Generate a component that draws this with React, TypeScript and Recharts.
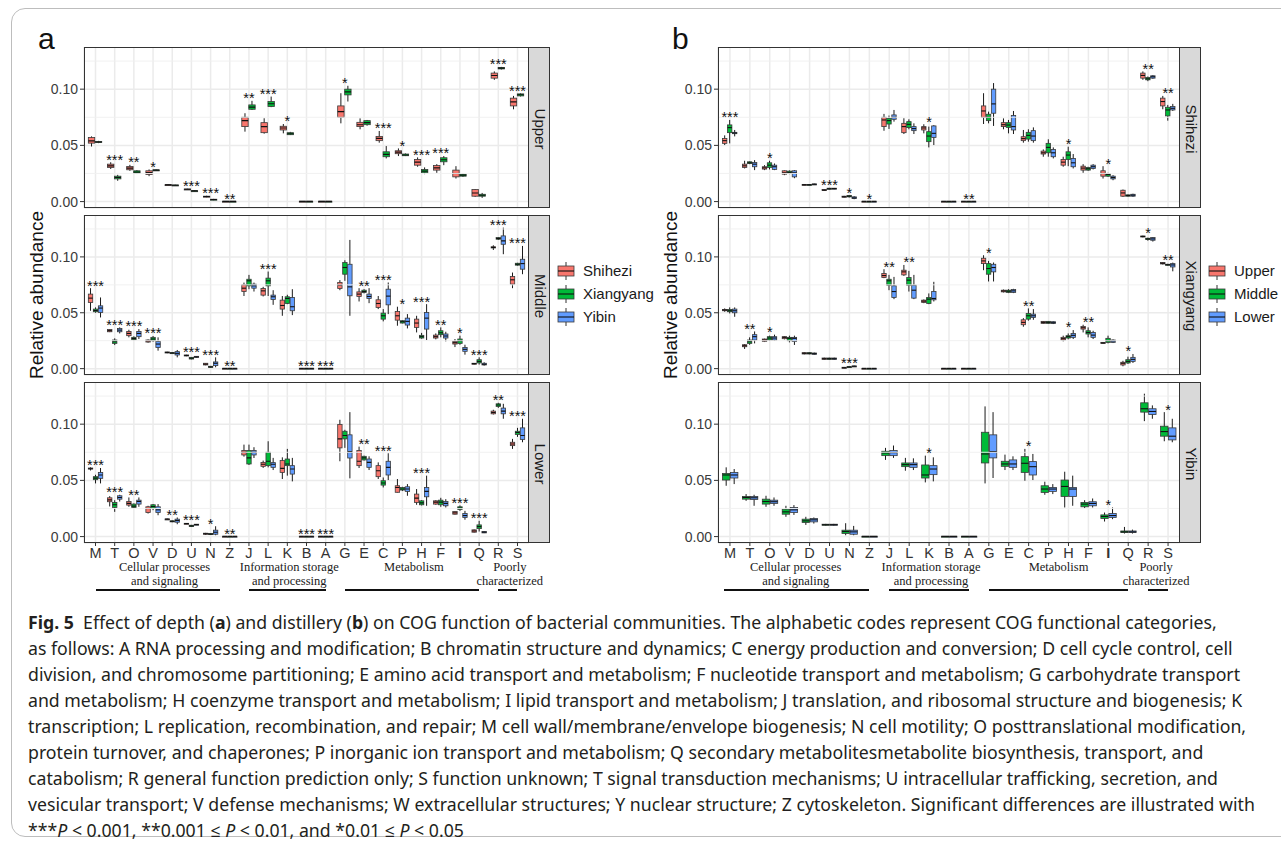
import React from 'react';
import { ComposedChart, Bar, Scatter, XAxis, YAxis, CartesianGrid, ReferenceLine } from 'recharts';

type Stat = number[]; // [min, q1, median, q3, max]

const categories = ['M', 'T', 'O', 'V', 'D', 'U', 'N', 'Z', 'J', 'L', 'K', 'B', 'A', 'G', 'E', 'C', 'P', 'H', 'F', 'I', 'Q', 'R', 'S'];
const NIL: Stat = [0, 0.0001, 0.0002, 0.0003, 0.0004];

// ---- panel a (depth) ----
const aUpperShihezi: Stat[] = [
  [0.049, 0.052, 0.054, 0.057, 0.058], [0.029, 0.0304, 0.0318, 0.0333, 0.035], [0.0274, 0.0283, 0.0298, 0.0312, 0.0327],
  [0.0226, 0.0241, 0.0259, 0.0274, 0.0286], [0.0144, 0.0147, 0.0149, 0.0151, 0.0153], [0.0106, 0.0108, 0.011, 0.0112, 0.0114],
  [0.0038, 0.0042, 0.0045, 0.0048, 0.0052], NIL, [0.0622, 0.0667, 0.072, 0.075, 0.0786],
  [0.0604, 0.0613, 0.0667, 0.0702, 0.0741], [0.0607, 0.0637, 0.0655, 0.067, 0.069], NIL, NIL,
  [0.0696, 0.075, 0.08, 0.0851, 0.0964], [0.0643, 0.0667, 0.0684, 0.0705, 0.074], [0.0524, 0.0542, 0.0562, 0.058, 0.0628],
  [0.0405, 0.0426, 0.044, 0.0452, 0.0473], [0.031, 0.0324, 0.0351, 0.0375, 0.0393], [0.0256, 0.028, 0.03, 0.0321, 0.0333],
  [0.0205, 0.022, 0.025, 0.028, 0.0315], [0.0042, 0.0048, 0.0077, 0.0107, 0.011], [0.1083, 0.1098, 0.1122, 0.1143, 0.1158],
  [0.0821, 0.0851, 0.0887, 0.092, 0.094],
];
const aUpperXiangyang: Stat[] = [
  [0.052, 0.0525, 0.053, 0.0535, 0.054], [0.0185, 0.0202, 0.0214, 0.0226, 0.0238], [0.0245, 0.025, 0.0262, 0.0274, 0.028],
  [0.0275, 0.0278, 0.028, 0.0282, 0.0285], [0.0142, 0.0144, 0.0146, 0.0148, 0.015], [0.0091, 0.0093, 0.0095, 0.0097, 0.0099],
  [0.0012, 0.0015, 0.0018, 0.0021, 0.0024], NIL, [0.0815, 0.0821, 0.084, 0.086, 0.0896],
  [0.084, 0.0845, 0.087, 0.089, 0.0934], [0.0592, 0.0595, 0.0604, 0.0613, 0.062], NIL, NIL,
  [0.089, 0.0949, 0.0976, 0.1, 0.103], [0.0675, 0.0684, 0.0702, 0.072, 0.0726], [0.0384, 0.0399, 0.042, 0.0443, 0.0494],
  [0.0405, 0.0408, 0.0414, 0.0423, 0.0428], [0.0244, 0.0256, 0.0271, 0.0286, 0.0304], [0.0324, 0.0354, 0.0372, 0.039, 0.0405],
  [0.022, 0.0226, 0.0235, 0.0244, 0.025], [0.0033, 0.0048, 0.0057, 0.0065, 0.0077], [0.1175, 0.118, 0.1187, 0.1193, 0.1198],
  [0.0935, 0.094, 0.095, 0.0958, 0.0962],
];
const aMiddleShihezi: Stat[] = [
  [0.0518, 0.0592, 0.0631, 0.0667, 0.072], [0.0327, 0.033, 0.034, 0.0351, 0.0354], [0.028, 0.0295, 0.0315, 0.0333, 0.0348],
  [0.0232, 0.0238, 0.0247, 0.0256, 0.0262], [0.0138, 0.014, 0.0145, 0.0149, 0.0151], [0.0111, 0.0113, 0.0118, 0.0122, 0.0124],
  [0.003, 0.0033, 0.004, 0.0048, 0.005], NIL, [0.065, 0.069, 0.072, 0.075, 0.077],
  [0.0646, 0.0658, 0.0696, 0.0717, 0.0732], [0.0473, 0.0533, 0.0565, 0.0613, 0.065], NIL, NIL,
  [0.0702, 0.0717, 0.0747, 0.0771, 0.0792], [0.0601, 0.0646, 0.0667, 0.0687, 0.072], [0.0533, 0.0548, 0.0583, 0.0616, 0.065],
  [0.0384, 0.0434, 0.0473, 0.0512, 0.0554], [0.0324, 0.0369, 0.0408, 0.0443, 0.0473], [0.0262, 0.0274, 0.0286, 0.03, 0.0315],
  [0.0193, 0.022, 0.0232, 0.0244, 0.0265], [0.0036, 0.0039, 0.0045, 0.0048, 0.005], [0.1062, 0.108, 0.1085, 0.109, 0.1104],
  [0.072, 0.0756, 0.0795, 0.0824, 0.086],
];
const aMiddleXiangyang: Stat[] = [
  [0.05, 0.0509, 0.052, 0.0533, 0.0548], [0.0211, 0.0226, 0.0241, 0.0256, 0.0271], [0.0253, 0.0259, 0.027, 0.028, 0.0289],
  [0.0241, 0.025, 0.0265, 0.028, 0.0292], [0.0135, 0.0138, 0.014, 0.0143, 0.0146], [0.0083, 0.0086, 0.0093, 0.0101, 0.0104],
  [0.0009, 0.0012, 0.0015, 0.0021, 0.0024], NIL, [0.0711, 0.0741, 0.0786, 0.08, 0.0839],
  [0.065, 0.0741, 0.0786, 0.081, 0.0869], [0.0577, 0.0583, 0.0628, 0.0643, 0.0661], NIL, NIL,
  [0.0786, 0.0845, 0.0905, 0.0949, 0.097], [0.0673, 0.0682, 0.069, 0.0702, 0.0711], [0.0423, 0.0443, 0.0473, 0.0497, 0.0533],
  [0.0405, 0.0408, 0.042, 0.0429, 0.0432], [0.0268, 0.0274, 0.0286, 0.0298, 0.032], [0.028, 0.0304, 0.0321, 0.0339, 0.0369],
  [0.0214, 0.0226, 0.025, 0.0265, 0.0295], [0.0036, 0.0051, 0.0065, 0.008, 0.0101], [0.1152, 0.1158, 0.1165, 0.1173, 0.1178],
  [0.0922, 0.0926, 0.0934, 0.0943, 0.0947],
];
const aMiddleYibin: Stat[] = [
  [0.0458, 0.0503, 0.0542, 0.0562, 0.0637], [0.0315, 0.033, 0.0345, 0.036, 0.0369], [0.0265, 0.0286, 0.0315, 0.0333, 0.0354],
  [0.0161, 0.019, 0.022, 0.0244, 0.028], [0.0101, 0.0122, 0.0137, 0.0152, 0.0167], [0.0098, 0.0101, 0.0105, 0.011, 0.0113],
  [0.0012, 0.0027, 0.0048, 0.006, 0.0101], NIL, [0.069, 0.072, 0.0741, 0.0756, 0.077],
  [0.0571, 0.0619, 0.0643, 0.0658, 0.0702], [0.0479, 0.0518, 0.0554, 0.0637, 0.0711], NIL, NIL,
  [0.0473, 0.0652, 0.0732, 0.0934, 0.1152], [0.0586, 0.0628, 0.0646, 0.0667, 0.072], [0.0488, 0.0571, 0.0649, 0.0711, 0.0771],
  [0.036, 0.039, 0.0423, 0.0452, 0.0488], [0.0256, 0.0354, 0.0452, 0.0503, 0.0577], [0.0244, 0.0274, 0.0292, 0.031, 0.033],
  [0.0125, 0.0155, 0.0173, 0.019, 0.0214], [0.0027, 0.0033, 0.0039, 0.0048, 0.0057], [0.1024, 0.1113, 0.1143, 0.1188, 0.1262],
  [0.0845, 0.089, 0.094, 0.0979, 0.1098],
];
const aLowerShihezi: Stat[] = [
  [0.0588, 0.0601, 0.0604, 0.061, 0.0616], [0.0268, 0.031, 0.0327, 0.0345, 0.036], [0.0265, 0.028, 0.0295, 0.0312, 0.0348],
  [0.0205, 0.0214, 0.025, 0.0265, 0.0274], [0.015, 0.0153, 0.0155, 0.0157, 0.016], [0.0111, 0.0114, 0.0116, 0.0118, 0.012],
  [0.0015, 0.0021, 0.0025, 0.003, 0.0033], NIL, [0.0711, 0.0726, 0.075, 0.0765, 0.0818],
  [0.0611, 0.0625, 0.0643, 0.066, 0.0676], [0.0512, 0.0571, 0.0607, 0.0676, 0.0705], NIL, NIL,
  [0.067, 0.0789, 0.0869, 0.0997, 0.1039], [0.061, 0.0631, 0.067, 0.0765, 0.08], [0.0512, 0.0533, 0.0586, 0.0631, 0.066],
  [0.0393, 0.0394, 0.0437, 0.0452, 0.0512], [0.0283, 0.0304, 0.0342, 0.0378, 0.0423], [0.0283, 0.0289, 0.0307, 0.0318, 0.0324],
  [0.0196, 0.0199, 0.0211, 0.0223, 0.0226], [0.0036, 0.0039, 0.005, 0.006, 0.0063], [0.1086, 0.1092, 0.1104, 0.1116, 0.1128],
  [0.078, 0.0809, 0.0824, 0.0839, 0.0869],
];
const aLowerXiangyang: Stat[] = [
  [0.0473, 0.0506, 0.052, 0.0533, 0.055], [0.022, 0.0259, 0.0283, 0.0304, 0.0324], [0.0253, 0.0259, 0.0271, 0.0289, 0.0295],
  [0.0235, 0.0253, 0.0268, 0.0283, 0.0289], [0.0128, 0.0131, 0.0136, 0.014, 0.0143], [0.0086, 0.0089, 0.0095, 0.0101, 0.0104],
  [0.0015, 0.0018, 0.0022, 0.0027, 0.003], NIL, [0.0637, 0.0646, 0.07, 0.0765, 0.0818],
  [0.0616, 0.0631, 0.067, 0.075, 0.0848], [0.0542, 0.0631, 0.0646, 0.069, 0.078], NIL, NIL,
  [0.0789, 0.0869, 0.0899, 0.0937, 0.095], [0.0676, 0.0682, 0.07, 0.0714, 0.072], [0.0437, 0.0458, 0.0476, 0.0497, 0.0526],
  [0.0405, 0.0414, 0.0423, 0.0437, 0.0443], [0.0277, 0.0283, 0.03, 0.0318, 0.0324], [0.0265, 0.0283, 0.0307, 0.0324, 0.0345],
  [0.0229, 0.0241, 0.0253, 0.0265, 0.0277], [0.0045, 0.0071, 0.0089, 0.0104, 0.014], [0.1145, 0.1158, 0.117, 0.1181, 0.119],
  [0.0887, 0.0908, 0.0926, 0.0937, 0.0967],
];
const aLowerYibin: Stat[] = [
  [0.0473, 0.0518, 0.0548, 0.0571, 0.061], [0.0312, 0.0333, 0.0348, 0.0363, 0.0372], [0.0265, 0.0289, 0.0312, 0.0324, 0.0348],
  [0.019, 0.0214, 0.0238, 0.0265, 0.0289], [0.011, 0.0128, 0.0143, 0.0155, 0.017], [0.0102, 0.0104, 0.0107, 0.011, 0.0112],
  [0.0012, 0.0021, 0.0039, 0.0057, 0.0092], NIL, [0.0699, 0.0726, 0.075, 0.0765, 0.0795],
  [0.0592, 0.0616, 0.0643, 0.0658, 0.07], [0.0491, 0.0556, 0.0601, 0.0631, 0.07], NIL, NIL,
  [0.0518, 0.0699, 0.0756, 0.0905, 0.1107], [0.0592, 0.0616, 0.066, 0.069, 0.0714], [0.0503, 0.0548, 0.0616, 0.067, 0.0741],
  [0.0363, 0.0402, 0.0423, 0.0443, 0.0467], [0.0274, 0.0354, 0.0402, 0.0437, 0.0542], [0.0259, 0.0274, 0.0295, 0.0312, 0.0333],
  [0.015, 0.017, 0.0187, 0.0205, 0.0229], [0.0031, 0.0033, 0.0039, 0.0045, 0.0048], [0.1048, 0.1092, 0.1116, 0.1143, 0.1181],
  [0.0839, 0.0863, 0.0899, 0.0967, 0.1048],
];
const aUpperStars = ['', '***', '**', '*', '', '***', '***', '**', '**', '***', '*', '', '', '*', '', '***', '*', '***', '***', '', '', '***', '***'];
const aMiddleStars = ['***', '***', '***', '***', '', '***', '***', '**', '', '***', '', '***', '***', '', '**', '***', '*', '***', '**', '*', '***', '***', '***'];
const aLowerStars = ['***', '***', '**', '', '**', '***', '*', '**', '', '', '', '***', '***', '', '**', '***', '', '***', '', '***', '***', '**', '***'];

// ---- panel b (distillery) ----
const bShiheziUpper: Stat[] = [
  [0.0503, 0.0518, 0.0542, 0.0562, 0.0589], [0.0295, 0.0304, 0.0318, 0.0333, 0.0363], [0.028, 0.0289, 0.03, 0.031, 0.0324],
  [0.0235, 0.0244, 0.0256, 0.0274, 0.0277], [0.0146, 0.0148, 0.015, 0.0153, 0.0155], [0.0095, 0.0098, 0.0102, 0.0107, 0.011],
  [0.0036, 0.0039, 0.0043, 0.0048, 0.0051], NIL, [0.063, 0.0667, 0.0726, 0.075, 0.078],
  [0.0601, 0.0613, 0.0667, 0.0696, 0.0741], [0.0607, 0.0637, 0.0655, 0.0667, 0.0688], NIL, NIL,
  [0.069, 0.075, 0.0806, 0.0851, 0.0964], [0.0643, 0.0667, 0.0684, 0.0702, 0.074], [0.0524, 0.0542, 0.056, 0.0577, 0.0637],
  [0.0399, 0.0423, 0.0434, 0.0449, 0.0464], [0.031, 0.0324, 0.0351, 0.0375, 0.0399], [0.0256, 0.028, 0.0298, 0.0315, 0.0333],
  [0.0205, 0.0226, 0.025, 0.0274, 0.0315], [0.0042, 0.0048, 0.0077, 0.0101, 0.0107], [0.1083, 0.1098, 0.1122, 0.1143, 0.1158],
  [0.0821, 0.0851, 0.089, 0.092, 0.094],
];
const bShiheziMiddle: Stat[] = [
  [0.0518, 0.0613, 0.0658, 0.0682, 0.0726], [0.0333, 0.0339, 0.0345, 0.0354, 0.0357], [0.0286, 0.0304, 0.0324, 0.0345, 0.0363],
  [0.0244, 0.025, 0.026, 0.0271, 0.0277], [0.0146, 0.0148, 0.015, 0.0152, 0.0155], [0.0107, 0.011, 0.0114, 0.0119, 0.0122],
  [0.0036, 0.0042, 0.0048, 0.0054, 0.0057], NIL, [0.0646, 0.069, 0.072, 0.0741, 0.0765],
  [0.0643, 0.0658, 0.0687, 0.0711, 0.0732], [0.0482, 0.0533, 0.0583, 0.0622, 0.0667], NIL, NIL,
  [0.0696, 0.072, 0.075, 0.0777, 0.08], [0.0607, 0.066, 0.0681, 0.0702, 0.0726], [0.0533, 0.0556, 0.0589, 0.0616, 0.0643],
  [0.0399, 0.0434, 0.0482, 0.0518, 0.0554], [0.0315, 0.0375, 0.0414, 0.0443, 0.0488], [0.0274, 0.028, 0.0292, 0.0304, 0.031],
  [0.022, 0.0226, 0.0241, 0.025, 0.0256], [0.0045, 0.0048, 0.0054, 0.006, 0.0063], [0.1071, 0.1083, 0.1092, 0.1104, 0.1113],
  [0.072, 0.0762, 0.0815, 0.0839, 0.086],
];
const bShiheziLower: Stat[] = [
  [0.058, 0.0604, 0.061, 0.0616, 0.0637], [0.028, 0.031, 0.0333, 0.0348, 0.0369], [0.028, 0.0286, 0.031, 0.0324, 0.0339],
  [0.0208, 0.022, 0.0256, 0.0274, 0.028], [0.0149, 0.0151, 0.0154, 0.0157, 0.0159], [0.011, 0.0113, 0.0116, 0.0119, 0.0121],
  [0.0021, 0.0027, 0.0033, 0.0042, 0.0048], NIL, [0.0711, 0.0732, 0.075, 0.0771, 0.0815],
  [0.0601, 0.0631, 0.0649, 0.0667, 0.0696], [0.0503, 0.0571, 0.0607, 0.0673, 0.068], NIL, NIL,
  [0.0673, 0.0786, 0.0869, 0.1, 0.1054], [0.0601, 0.0637, 0.0667, 0.0765, 0.0806], [0.0524, 0.0542, 0.0583, 0.0631, 0.066],
  [0.0384, 0.0399, 0.0434, 0.0464, 0.0482], [0.0295, 0.031, 0.0345, 0.0384, 0.0423], [0.0286, 0.0295, 0.031, 0.0324, 0.0333],
  [0.019, 0.0202, 0.0214, 0.0226, 0.0235], [0.0042, 0.0048, 0.0057, 0.0065, 0.007], [0.1092, 0.1098, 0.111, 0.1119, 0.1125],
  [0.0806, 0.0815, 0.083, 0.0845, 0.0869],
];
const bXiangyangUpper: Stat[] = [
  [0.0509, 0.0518, 0.0524, 0.053, 0.0539], [0.0176, 0.0196, 0.0205, 0.0214, 0.022], [0.0238, 0.0244, 0.0256, 0.0265, 0.0268],
  [0.0262, 0.0268, 0.028, 0.0286, 0.0289], [0.0128, 0.0131, 0.0137, 0.0143, 0.0146], [0.008, 0.0083, 0.0089, 0.0095, 0.0098],
  [0.0003, 0.0004, 0.0008, 0.0012, 0.0015], NIL, [0.081, 0.0815, 0.0833, 0.0851, 0.089],
  [0.083, 0.0839, 0.0866, 0.0881, 0.0928], [0.0586, 0.0592, 0.0604, 0.0613, 0.0619], NIL, NIL,
  [0.0881, 0.094, 0.0964, 0.0988, 0.1015], [0.0682, 0.0687, 0.0695, 0.0702, 0.0708], [0.0375, 0.0393, 0.0414, 0.0437, 0.0452],
  [0.0402, 0.0405, 0.0414, 0.0423, 0.0426], [0.0244, 0.0256, 0.0268, 0.028, 0.0295], [0.0324, 0.0354, 0.0366, 0.0378, 0.0393],
  [0.0223, 0.0226, 0.023, 0.0235, 0.0238], [0.0021, 0.0033, 0.0048, 0.0057, 0.007], [0.1175, 0.1178, 0.1183, 0.1187, 0.119],
  [0.0932, 0.0937, 0.0943, 0.0949, 0.0952],
];
const bXiangyangMiddle: Stat[] = [
  [0.0494, 0.0509, 0.0518, 0.053, 0.0548], [0.0214, 0.0226, 0.0241, 0.0256, 0.028], [0.025, 0.0256, 0.0274, 0.0286, 0.0295],
  [0.0235, 0.025, 0.0271, 0.028, 0.0295], [0.0128, 0.0131, 0.0137, 0.0143, 0.0146], [0.008, 0.0083, 0.0089, 0.0095, 0.0098],
  [0.0009, 0.0012, 0.0015, 0.0018, 0.0021], NIL, [0.0702, 0.0747, 0.0786, 0.08, 0.0839],
  [0.069, 0.0747, 0.0792, 0.0815, 0.0875], [0.0577, 0.0583, 0.0622, 0.0637, 0.0673], NIL, NIL,
  [0.078, 0.0845, 0.0896, 0.094, 0.0964], [0.0676, 0.0682, 0.0693, 0.0702, 0.0711], [0.0429, 0.0443, 0.0473, 0.0494, 0.0539],
  [0.0402, 0.0405, 0.0414, 0.0423, 0.0426], [0.0262, 0.0274, 0.0286, 0.0295, 0.0315], [0.028, 0.031, 0.0324, 0.0339, 0.0369],
  [0.0226, 0.0235, 0.025, 0.0271, 0.0295], [0.0042, 0.0051, 0.0065, 0.008, 0.0107], [0.1145, 0.1155, 0.1161, 0.1167, 0.1172],
  [0.0922, 0.0926, 0.093, 0.0934, 0.0938],
];
const bXiangyangLower: Stat[] = [
  [0.0464, 0.05, 0.0518, 0.0533, 0.0548], [0.0226, 0.0256, 0.0286, 0.0304, 0.0333], [0.025, 0.0256, 0.0274, 0.0286, 0.0304],
  [0.0212, 0.0244, 0.0271, 0.028, 0.0295], [0.0125, 0.0128, 0.0134, 0.014, 0.0143], [0.008, 0.0083, 0.0089, 0.0095, 0.0098],
  [0.0015, 0.0018, 0.0021, 0.0024, 0.0027], NIL, [0.0622, 0.0637, 0.069, 0.0741, 0.0821],
  [0.0622, 0.0631, 0.0702, 0.0747, 0.0839], [0.0601, 0.0616, 0.0628, 0.069, 0.0777], NIL, NIL,
  [0.078, 0.0866, 0.0905, 0.0934, 0.095], [0.0676, 0.0682, 0.0696, 0.0708, 0.0714], [0.0437, 0.0458, 0.0473, 0.0488, 0.0533],
  [0.0399, 0.0405, 0.0411, 0.042, 0.0423], [0.0265, 0.028, 0.0298, 0.0315, 0.0345], [0.0265, 0.028, 0.03, 0.0324, 0.0339],
  [0.0229, 0.0235, 0.0247, 0.0256, 0.0262], [0.0051, 0.0065, 0.0083, 0.0101, 0.0131], [0.1137, 0.1149, 0.1161, 0.1173, 0.1178],
  [0.0871, 0.091, 0.0928, 0.094, 0.0949],
];
const bYibinMiddle: Stat[] = [
  [0.0452, 0.0503, 0.0548, 0.0562, 0.0616], [0.0318, 0.0333, 0.0348, 0.0357, 0.0378], [0.0265, 0.0289, 0.0312, 0.0333, 0.0363],
  [0.0176, 0.0199, 0.022, 0.0244, 0.0274], [0.0104, 0.0125, 0.014, 0.0155, 0.0176], [0.0098, 0.0101, 0.0105, 0.011, 0.0113],
  [0.0012, 0.0027, 0.0045, 0.0057, 0.0119], NIL, [0.0682, 0.072, 0.0744, 0.0759, 0.0789],
  [0.0586, 0.0622, 0.064, 0.0655, 0.07], [0.0482, 0.0521, 0.0548, 0.0637, 0.072], NIL, NIL,
  [0.0473, 0.0655, 0.0735, 0.0928, 0.1158], [0.0592, 0.0625, 0.0646, 0.067, 0.0729], [0.0497, 0.0571, 0.0652, 0.0711, 0.078],
  [0.0372, 0.0393, 0.0423, 0.0452, 0.0488], [0.0259, 0.0357, 0.0446, 0.0503, 0.0577], [0.0253, 0.0265, 0.0289, 0.0304, 0.0324],
  [0.0134, 0.0161, 0.0179, 0.0193, 0.0214], [0.0027, 0.0036, 0.0042, 0.005, 0.0086], [0.1027, 0.1107, 0.1137, 0.119, 0.1271],
  [0.0848, 0.0893, 0.0934, 0.0982, 0.1107],
];
const bYibinLower: Stat[] = [
  [0.0467, 0.0521, 0.0548, 0.0571, 0.0601], [0.0274, 0.033, 0.0345, 0.0357, 0.0372], [0.0274, 0.0295, 0.031, 0.0324, 0.0348],
  [0.0193, 0.0214, 0.0238, 0.0259, 0.028], [0.0116, 0.0131, 0.0149, 0.0161, 0.017], [0.0098, 0.0101, 0.0105, 0.011, 0.0113],
  [0.0012, 0.0021, 0.0042, 0.0057, 0.0095], NIL, [0.07, 0.072, 0.0747, 0.0765, 0.081],
  [0.0592, 0.0616, 0.064, 0.0655, 0.0696], [0.0491, 0.0551, 0.0601, 0.0631, 0.0705], NIL, NIL,
  [0.0521, 0.07, 0.0756, 0.0905, 0.1107], [0.0592, 0.0616, 0.0646, 0.0682, 0.0714], [0.0503, 0.0548, 0.0622, 0.0667, 0.0735],
  [0.0378, 0.0402, 0.0423, 0.0437, 0.0467], [0.0274, 0.0357, 0.0423, 0.0437, 0.0542], [0.0259, 0.0274, 0.0295, 0.031, 0.0339],
  [0.0155, 0.017, 0.0187, 0.0205, 0.0259], [0.0027, 0.0036, 0.0042, 0.005, 0.0062], [0.1048, 0.1086, 0.1113, 0.1137, 0.1167],
  [0.0839, 0.086, 0.0893, 0.0967, 0.1048],
];
const bShiheziStars = ['***', '', '*', '', '', '***', '*', '*', '', '', '*', '', '**', '', '', '', '', '*', '', '*', '', '**', '**'];
const bXiangyangStars = ['', '**', '*', '', '', '', '***', '', '**', '**', '', '', '', '*', '', '**', '', '*', '**', '', '*', '*', '**'];
const bYibinStars = ['', '', '', '', '', '', '', '', '', '', '*', '', '', '', '', '*', '', '', '', '*', '', '', '*'];

const RED = '#F8766D';
const GREEN = '#00BA38';
const BLUE = '#619CFF';

const Y_DOMAIN = [-0.0057, 0.1375];
const Y_TICKS = [0, 0.05, 0.1];
const MINOR = [0.025, 0.075, 0.125];
const SANS = '"Liberation Sans", Arial, sans-serif';
const SERIF = '"Liberation Serif", "Times New Roman", serif';
const FACETS = [{ top: 47, h: 161 }, { top: 215, h: 160 }, { top: 382, h: 161 }];
const YAXIS_W = 40;
const XAXIS_H = 24;
const SPARE = 8; // room under the upper facets so the 0.00 label is not clipped

function buildRows(groups: Stat[][], stars: string[]) {
  return categories.map((cat, i) => {
    const s = groups.map((g) => g[i]);
    const top = Math.max(...s.map((t) => t[4]));
    return { cat, s, star: stars[i], starY: stars[i] ? top + 0.005 : null };
  });
}

const BoxShape = (p: any) => {
  const { x, y, width, height, stat, color } = p;
  if (!stat || x == null || y == null) return <g />;
  const [mn, q1, md, q3, mx] = stat;
  const bottom = y + height;
  const span = mx - mn;
  const pix = (v: number) => (span === 0 ? y : bottom + ((v - mn) / span) * (y - bottom));
  const cx = x + width / 2;
  const bx = x + 0.3;
  const bw = Math.max(width - 0.6, 1);
  const yTop = pix(q3);
  const boxH = Math.max(pix(q1) - yTop, 1);
  return (
    <g>
      <line x1={cx} x2={cx} y1={pix(mx)} y2={pix(mn)} stroke="#1a1a1a" strokeWidth={1} />
      <rect x={bx} y={yTop} width={bw} height={boxH} fill={color} stroke="#3a3a3a" strokeWidth={0.8} />
      <line x1={bx} x2={bx + bw} y1={pix(md)} y2={pix(md)} stroke="#111" strokeWidth={1.1} />
    </g>
  );
};

const StarShape = (p: any) => {
  if (!p.payload || !p.payload.star || p.cy == null || isNaN(p.cy)) return <g />;
  return (
    <text x={p.cx} y={p.cy + 8} textAnchor="middle" fontSize={14.5} fontFamily={SANS} fill="#111">
      {p.payload.star}
    </text>
  );
};

const CatTick = (p: any) => (
  <text x={p.x} y={p.y} dy="0.71em" textAnchor="middle" fontSize={14.5} fontFamily={SANS} fill="#333"
    fontWeight={p.payload.value === 'I' ? 700 : 400}>
    {p.payload.value}
  </text>
);

function Facet({ rows, colors, plotLeft, plotW, top, h, showX, strip }: any) {
  const pad = (0.1 * plotW) / 23.2;
  const extra = showX ? XAXIS_H : SPARE;
  return (
    <>
      <div style={{ position: 'absolute', left: plotLeft - YAXIS_W, top }}>
        <ComposedChart width={plotW + YAXIS_W} height={h + extra} data={rows}
          margin={{ top: 0, right: 0, bottom: showX ? 0 : SPARE, left: 0 }} barCategoryGap="11%" barGap={0}>
          <CartesianGrid stroke="#EBEBEB" strokeWidth={1.5} />
          {MINOR.map((v) => (
            <ReferenceLine key={v} y={v} stroke="#EFEFEF" strokeWidth={0.9} />
          ))}
          <XAxis dataKey="cat" hide={!showX} height={XAXIS_H} padding={{ left: pad, right: pad }} interval={0}
            axisLine={false} tickSize={3} tickMargin={2} tickLine={{ stroke: '#333' }} tick={<CatTick />} />
          <YAxis type="number" domain={Y_DOMAIN} allowDataOverflow ticks={Y_TICKS} interval={0} width={YAXIS_W}
            axisLine={false} tickSize={4} tickMargin={2} tickLine={{ stroke: '#333' }}
            tickFormatter={(v: number) => v.toFixed(2)}
            tick={{ fill: '#3b3b3b', fontSize: 14, fontFamily: SANS }} />
          {colors.map((c: string, g: number) => (
            <Bar key={g} dataKey={(d: any) => [d.s[g][0], d.s[g][4]]} isAnimationActive={false}
              shape={(sp: any) => <BoxShape {...sp} stat={sp.payload && sp.payload.s[g]} color={c} />} />
          ))}
          <Scatter dataKey="starY" isAnimationActive={false} shape={StarShape} />
        </ComposedChart>
      </div>
      <div style={{ position: 'absolute', left: plotLeft, top, width: plotW, height: h, border: '1.4px solid #333', boxSizing: 'border-box', pointerEvents: 'none' }} />
      <div style={{ position: 'absolute', left: plotLeft + plotW - 1, top, width: 22, height: h, background: '#D9D9D9', border: '1.4px solid #333', boxSizing: 'border-box' }}>
        <div style={{ position: 'absolute', left: 11 - 80, top: h / 2 - 10, width: 160, height: 20, lineHeight: '20px', textAlign: 'center', transform: 'rotate(90deg)', fontFamily: SANS, fontSize: 15, color: '#1a1a1a' }}>
          {strip}
        </div>
      </div>
    </>
  );
}

const LegendKey = ({ color }: { color: string }) => (
  <svg width={22} height={22} style={{ display: 'block' }}>
    <line x1={11} x2={11} y1={2} y2={20} stroke="#333" strokeWidth={1} />
    <rect x={3} y={6} width={16} height={10} fill={color} stroke="#3a3a3a" strokeWidth={0.8} />
    <line x1={3} x2={19} y1={11} y2={11} stroke="#111" strokeWidth={1.1} />
  </svg>
);

function Panel({ label, plotLeft, plotW, facets, legend, groupLabels }: any) {
  const unit = plotW / 23.2;
  const catX = (i: number) => plotLeft + (0.6 + i) * unit;
  return (
    <>
      <div style={{ position: 'absolute', left: plotLeft - 46, top: 24, fontFamily: SANS, fontSize: 30, lineHeight: '30px', color: '#111' }}>{label}</div>
      <div style={{ position: 'absolute', left: plotLeft - 47 - 150, top: 295 - 12, width: 300, height: 24, lineHeight: '24px', textAlign: 'center', transform: 'rotate(-90deg)', fontFamily: SANS, fontSize: 19, color: '#111' }}>
        Relative abundance
      </div>
      {facets.map((f: any, k: number) => (
        <Facet key={k} rows={f.rows} colors={f.colors} strip={f.strip} plotLeft={plotLeft} plotW={plotW}
          top={FACETS[k].top} h={FACETS[k].h} showX={k === 2} />
      ))}
      <div style={{ position: 'absolute', left: plotLeft + plotW + 26, top: 259 }}>
        {legend.map((l: any) => (
          <div key={l.name} style={{ display: 'flex', alignItems: 'center', height: 23 }}>
            <LegendKey color={l.color} />
            <span style={{ marginLeft: 6, fontFamily: SANS, fontSize: 15, color: '#1a1a1a' }}>{l.name}</span>
          </div>
        ))}
      </div>
      {groupLabels.map((g: any) => (
        <React.Fragment key={g.lines[0]}>
          <div style={{ position: 'absolute', left: catX(g.center) - 100, top: 560, width: 200, textAlign: 'center', fontFamily: SERIF, fontSize: 12.5, lineHeight: '14px', color: '#1a1a1a' }}>
            {g.lines.map((t: string) => <div key={t}>{t}</div>)}
          </div>
          <div style={{ position: 'absolute', left: catX(g.from), top: 589, width: catX(g.to) - catX(g.from), height: 2, background: '#111' }} />
        </React.Fragment>
      ))}
    </>
  );
}

const captionLines: React.ReactNode[] = [
  <><b>Fig. 5</b>{'  '}Effect of depth (<b>a</b>) and distillery (<b>b</b>) on COG function of bacterial communities. The alphabetic codes represent COG functional categories,</>,
  'as follows: A RNA processing and modification; B chromatin structure and dynamics; C energy production and conversion; D cell cycle control, cell',
  'division, and chromosome partitioning; E amino acid transport and metabolism; F nucleotide transport and metabolism; G carbohydrate transport',
  'and metabolism; H coenzyme transport and metabolism; I lipid transport and metabolism; J translation, and ribosomal structure and biogenesis; K',
  'transcription; L replication, recombination, and repair; M cell wall/membrane/envelope biogenesis; N cell motility; O posttranslational modification,',
  'protein turnover, and chaperones; P inorganic ion transport and metabolism; Q secondary metabolitesmetabolite biosynthesis, transport, and',
  'catabolism; R general function prediction only; S function unknown; T signal transduction mechanisms; U intracellular trafficking, secretion, and',
  'vesicular transport; V defense mechanisms; W extracellular structures; Y nuclear structure; Z cytoskeleton. Significant differences are illustrated with',
  <>***<i>P</i> &lt; 0.001, **0.001 ≤ <i>P</i> &lt; 0.01, and *0.01 ≤ <i>P</i> &lt; 0.05</>,
];

export default function App() {
  const panelA = [
    { strip: 'Upper', colors: [RED, GREEN], rows: buildRows([aUpperShihezi, aUpperXiangyang], aUpperStars) },
    { strip: 'Middle', colors: [RED, GREEN, BLUE], rows: buildRows([aMiddleShihezi, aMiddleXiangyang, aMiddleYibin], aMiddleStars) },
    { strip: 'Lower', colors: [RED, GREEN, BLUE], rows: buildRows([aLowerShihezi, aLowerXiangyang, aLowerYibin], aLowerStars) },
  ];
  const panelB = [
    { strip: 'Shihezi', colors: [RED, GREEN, BLUE], rows: buildRows([bShiheziUpper, bShiheziMiddle, bShiheziLower], bShiheziStars) },
    { strip: 'Xiangyang', colors: [RED, GREEN, BLUE], rows: buildRows([bXiangyangUpper, bXiangyangMiddle, bXiangyangLower], bXiangyangStars) },
    { strip: 'Yibin', colors: [GREEN, BLUE], rows: buildRows([bYibinMiddle, bYibinLower], bYibinStars) },
  ];
  const groupsA = [
    { lines: ['Cellular processes', 'and signaling'], from: 0, to: 6.5, center: 3.6 },
    { lines: ['Information storage', 'and processing'], from: 8, to: 12, center: 10.1 },
    { lines: ['Metabolism'], from: 13, to: 20, center: 16.6 },
    { lines: ['Poorly', 'characterized'], from: 21, to: 22, center: 21.6 },
  ];
  const groupsB = [
    { lines: ['Cellular processes', 'and signaling'], from: -0.3, to: 7, center: 3.3 },
    { lines: ['Information storage', 'and processing'], from: 8, to: 12, center: 10.1 },
    { lines: ['Metabolism'], from: 13, to: 20, center: 16.5 },
    { lines: ['Poorly', 'characterized'], from: 21, to: 22, center: 21.4 },
  ];
  return (
    <div style={{ position: 'absolute', left: 0, top: 0, width: 1281, height: 843, overflow: 'hidden', background: '#fff' }}>
      <div style={{ position: 'absolute', left: 11, top: 8, width: 1320, height: 829, border: '1px solid #BDBDBD', borderRadius: 14, boxSizing: 'border-box' }} />
      <Panel label="a" plotLeft={84} plotW={445} facets={panelA} groupLabels={groupsA}
        legend={[{ name: 'Shihezi', color: RED }, { name: 'Xiangyang', color: GREEN }, { name: 'Yibin', color: BLUE }]} />
      <Panel label="b" plotLeft={718} plotW={462} facets={panelB} groupLabels={groupsB}
        legend={[{ name: 'Upper', color: RED }, { name: 'Middle', color: GREEN }, { name: 'Lower', color: BLUE }]} />
      <div style={{ position: 'absolute', left: 28, top: 609, fontFamily: '"Noto Sans", "Open Sans", sans-serif', fontSize: 17.7, color: '#231F20' }}>
        {captionLines.map((l, i) => (
          <div key={i} style={{ height: 26, lineHeight: '26px', whiteSpace: 'pre' }}>{l}</div>
        ))}
      </div>
    </div>
  );
}
